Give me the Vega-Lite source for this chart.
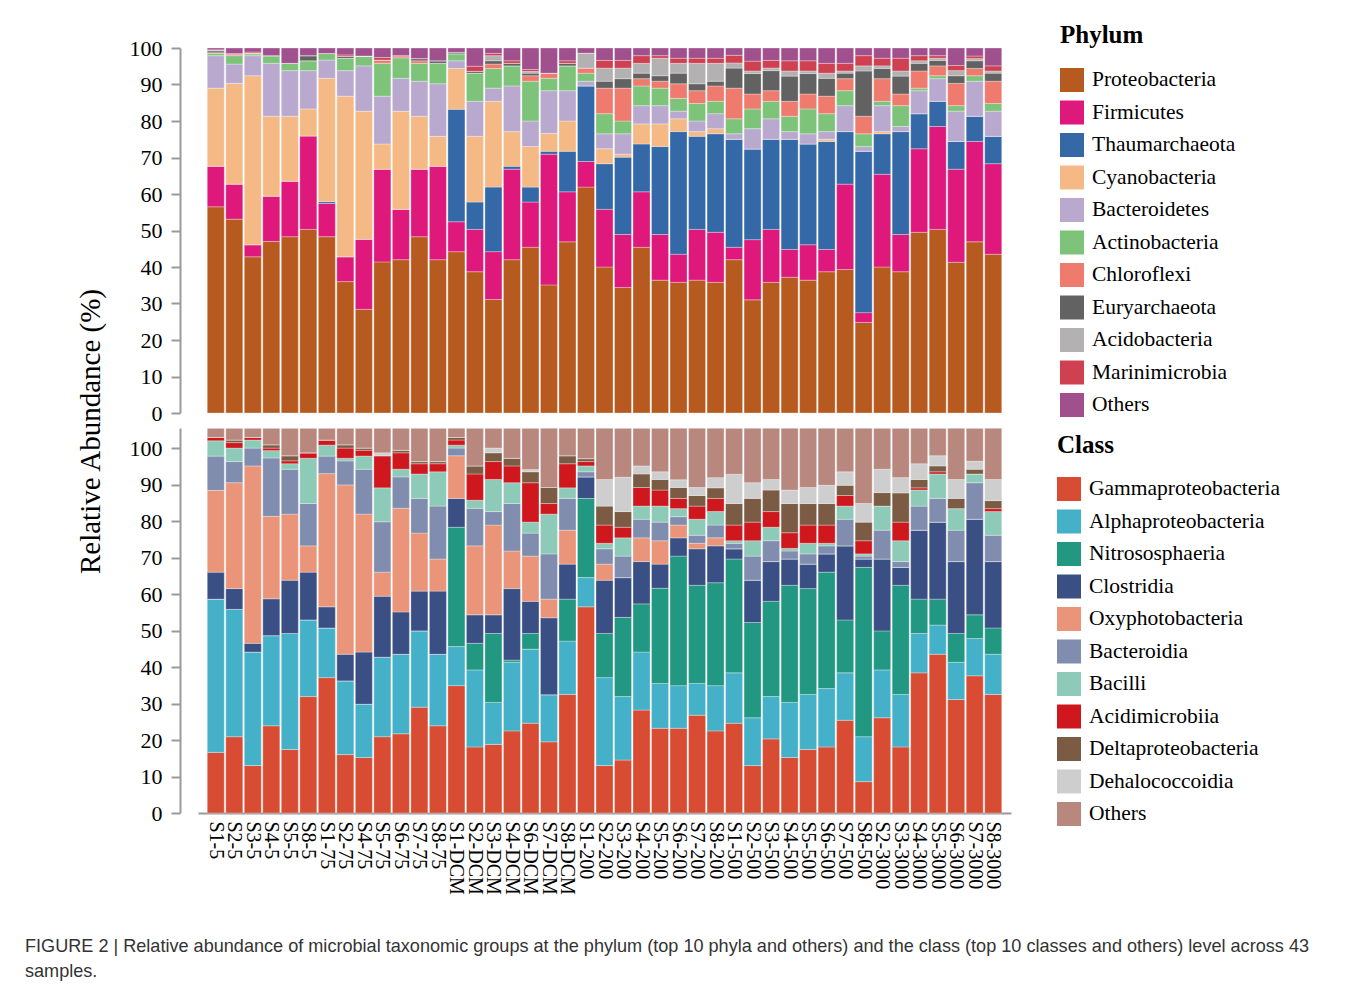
{
  "$schema": "https://vega.github.io/schema/vega-lite/v6.json",
  "background": "white",
  "padding": {"left": 25, "top": 23, "right": 10, "bottom": 10},
  "datasets": {
    "phylumRank": [
      {"taxon":"Proteobacteria","rank":1},{"taxon":"Firmicutes","rank":2},{"taxon":"Thaumarchaeota","rank":3},
      {"taxon":"Cyanobacteria","rank":4},{"taxon":"Bacteroidetes","rank":5},{"taxon":"Actinobacteria","rank":6},
      {"taxon":"Chloroflexi","rank":7},{"taxon":"Euryarchaeota","rank":8},{"taxon":"Acidobacteria","rank":9},
      {"taxon":"Marinimicrobia","rank":10},{"taxon":"Others","rank":11}
    ],
    "classRank": [
      {"taxon":"Gammaproteobacteria","rank":1},{"taxon":"Alphaproteobacteria","rank":2},{"taxon":"Nitrososphaeria","rank":3},
      {"taxon":"Clostridia","rank":4},{"taxon":"Oxyphotobacteria","rank":5},{"taxon":"Bacteroidia","rank":6},
      {"taxon":"Bacilli","rank":7},{"taxon":"Acidimicrobiia","rank":8},{"taxon":"Deltaproteobacteria","rank":9},
      {"taxon":"Dehalococcoidia","rank":10},{"taxon":"Others","rank":11}
    ],
    "phylum": [
      {"sample":"S1-5","Proteobacteria":56.5,"Firmicutes":11.1,"Thaumarchaeota":0,"Cyanobacteria":21.4,"Bacteroidetes":8.9,"Actinobacteria":0.6,"Chloroflexi":0.2,"Euryarchaeota":0.5,"Acidobacteria":0.2,"Marinimicrobia":0.1,"Others":0.5},
      {"sample":"S2-5","Proteobacteria":53.1,"Firmicutes":9.6,"Thaumarchaeota":0,"Cyanobacteria":27.6,"Bacteroidetes":5.3,"Actinobacteria":2.3,"Chloroflexi":0.3,"Euryarchaeota":0,"Acidobacteria":0,"Marinimicrobia":0.3,"Others":1.5},
      {"sample":"S3-5","Proteobacteria":42.8,"Firmicutes":3.3,"Thaumarchaeota":0,"Cyanobacteria":46.3,"Bacteroidetes":5.5,"Actinobacteria":0.5,"Chloroflexi":0.2,"Euryarchaeota":0,"Acidobacteria":0,"Marinimicrobia":0.3,"Others":1.1},
      {"sample":"S4-5","Proteobacteria":47.0,"Firmicutes":12.4,"Thaumarchaeota":0,"Cyanobacteria":21.9,"Bacteroidetes":14.5,"Actinobacteria":2.1,"Chloroflexi":0,"Euryarchaeota":0,"Acidobacteria":0,"Marinimicrobia":0,"Others":2.1},
      {"sample":"S5-5","Proteobacteria":48.3,"Firmicutes":15.2,"Thaumarchaeota":0,"Cyanobacteria":17.8,"Bacteroidetes":12.5,"Actinobacteria":2.0,"Chloroflexi":0,"Euryarchaeota":0,"Acidobacteria":0,"Marinimicrobia":0,"Others":4.2},
      {"sample":"S8-5","Proteobacteria":50.3,"Firmicutes":25.6,"Thaumarchaeota":0,"Cyanobacteria":7.4,"Bacteroidetes":10.5,"Actinobacteria":2.7,"Chloroflexi":0,"Euryarchaeota":1.4,"Acidobacteria":0,"Marinimicrobia":0,"Others":2.1},
      {"sample":"S1-75","Proteobacteria":48.3,"Firmicutes":9.1,"Thaumarchaeota":0.5,"Cyanobacteria":33.8,"Bacteroidetes":5.0,"Actinobacteria":1.8,"Chloroflexi":0,"Euryarchaeota":0,"Acidobacteria":0,"Marinimicrobia":0,"Others":1.5},
      {"sample":"S2-75","Proteobacteria":36.0,"Firmicutes":6.8,"Thaumarchaeota":0,"Cyanobacteria":44.0,"Bacteroidetes":7.0,"Actinobacteria":3.4,"Chloroflexi":0,"Euryarchaeota":0.5,"Acidobacteria":0,"Marinimicrobia":0.4,"Others":1.9},
      {"sample":"S4-75","Proteobacteria":28.4,"Firmicutes":19.2,"Thaumarchaeota":0,"Cyanobacteria":35.1,"Bacteroidetes":12.4,"Actinobacteria":2.7,"Chloroflexi":0,"Euryarchaeota":0,"Acidobacteria":0,"Marinimicrobia":0,"Others":2.2},
      {"sample":"S5-75","Proteobacteria":41.4,"Firmicutes":25.4,"Thaumarchaeota":0,"Cyanobacteria":6.9,"Bacteroidetes":13.1,"Actinobacteria":9.0,"Chloroflexi":0.9,"Euryarchaeota":0,"Acidobacteria":0,"Marinimicrobia":0.7,"Others":2.6},
      {"sample":"S6-75","Proteobacteria":42.0,"Firmicutes":13.8,"Thaumarchaeota":0,"Cyanobacteria":26.9,"Bacteroidetes":9.0,"Actinobacteria":5.6,"Chloroflexi":0.6,"Euryarchaeota":0,"Acidobacteria":0,"Marinimicrobia":0,"Others":2.1},
      {"sample":"S7-75","Proteobacteria":48.3,"Firmicutes":18.5,"Thaumarchaeota":0,"Cyanobacteria":14.5,"Bacteroidetes":9.6,"Actinobacteria":4.9,"Chloroflexi":0.7,"Euryarchaeota":0.6,"Acidobacteria":0,"Marinimicrobia":0,"Others":2.9},
      {"sample":"S8-75","Proteobacteria":42.0,"Firmicutes":25.6,"Thaumarchaeota":0,"Cyanobacteria":8.2,"Bacteroidetes":14.4,"Actinobacteria":5.6,"Chloroflexi":0,"Euryarchaeota":0.7,"Acidobacteria":0,"Marinimicrobia":0,"Others":3.5},
      {"sample":"S1-DCM","Proteobacteria":44.2,"Firmicutes":8.2,"Thaumarchaeota":30.8,"Cyanobacteria":11.2,"Bacteroidetes":2.1,"Actinobacteria":1.9,"Chloroflexi":0,"Euryarchaeota":0.4,"Acidobacteria":0,"Marinimicrobia":0,"Others":1.2},
      {"sample":"S2-DCM","Proteobacteria":38.7,"Firmicutes":11.6,"Thaumarchaeota":7.5,"Cyanobacteria":18.0,"Bacteroidetes":9.6,"Actinobacteria":7.7,"Chloroflexi":0,"Euryarchaeota":0.5,"Acidobacteria":0,"Marinimicrobia":1.4,"Others":5.0},
      {"sample":"S3-DCM","Proteobacteria":31.1,"Firmicutes":13.1,"Thaumarchaeota":17.7,"Cyanobacteria":23.5,"Bacteroidetes":3.6,"Actinobacteria":5.4,"Chloroflexi":1.2,"Euryarchaeota":0.9,"Acidobacteria":1.4,"Marinimicrobia":0.6,"Others":1.5},
      {"sample":"S4-DCM","Proteobacteria":42.0,"Firmicutes":24.8,"Thaumarchaeota":0.8,"Cyanobacteria":9.5,"Bacteroidetes":12.5,"Actinobacteria":5.5,"Chloroflexi":0,"Euryarchaeota":0.7,"Acidobacteria":0,"Marinimicrobia":0.7,"Others":3.5},
      {"sample":"S6-DCM","Proteobacteria":45.4,"Firmicutes":12.4,"Thaumarchaeota":4.1,"Cyanobacteria":11.1,"Bacteroidetes":7.0,"Actinobacteria":10.9,"Chloroflexi":1.5,"Euryarchaeota":0.7,"Acidobacteria":0.5,"Marinimicrobia":0.5,"Others":5.9},
      {"sample":"S7-DCM","Proteobacteria":35.1,"Firmicutes":35.8,"Thaumarchaeota":0.8,"Cyanobacteria":4.9,"Bacteroidetes":11.7,"Actinobacteria":3.4,"Chloroflexi":1.4,"Euryarchaeota":0,"Acidobacteria":0,"Marinimicrobia":0,"Others":6.9},
      {"sample":"S8-DCM","Proteobacteria":46.9,"Firmicutes":13.7,"Thaumarchaeota":11.1,"Cyanobacteria":8.3,"Bacteroidetes":8.3,"Actinobacteria":6.8,"Chloroflexi":0,"Euryarchaeota":0.7,"Acidobacteria":0,"Marinimicrobia":0.7,"Others":3.5},
      {"sample":"S1-200","Proteobacteria":61.9,"Firmicutes":7.0,"Thaumarchaeota":20.7,"Cyanobacteria":0,"Bacteroidetes":1.3,"Actinobacteria":2.2,"Chloroflexi":1.4,"Euryarchaeota":0,"Acidobacteria":4.1,"Marinimicrobia":0,"Others":1.4},
      {"sample":"S2-200","Proteobacteria":40.0,"Firmicutes":15.8,"Thaumarchaeota":12.5,"Cyanobacteria":4.1,"Bacteroidetes":4.1,"Actinobacteria":5.5,"Chloroflexi":7.0,"Euryarchaeota":1.9,"Acidobacteria":3.6,"Marinimicrobia":2.1,"Others":3.4},
      {"sample":"S3-200","Proteobacteria":34.4,"Firmicutes":14.5,"Thaumarchaeota":21.2,"Cyanobacteria":0.8,"Bacteroidetes":5.6,"Actinobacteria":3.5,"Chloroflexi":9.0,"Euryarchaeota":2.6,"Acidobacteria":2.9,"Marinimicrobia":2.1,"Others":3.4},
      {"sample":"S4-200","Proteobacteria":45.4,"Firmicutes":15.2,"Thaumarchaeota":13.1,"Cyanobacteria":5.5,"Bacteroidetes":5.0,"Actinobacteria":5.4,"Chloroflexi":2.0,"Euryarchaeota":1.5,"Acidobacteria":2.7,"Marinimicrobia":2.1,"Others":2.1},
      {"sample":"S5-200","Proteobacteria":36.4,"Firmicutes":12.5,"Thaumarchaeota":24.1,"Cyanobacteria":6.2,"Bacteroidetes":5.0,"Actinobacteria":4.8,"Chloroflexi":1.9,"Euryarchaeota":1.5,"Acidobacteria":4.8,"Marinimicrobia":0.7,"Others":2.1},
      {"sample":"S6-200","Proteobacteria":35.8,"Firmicutes":7.7,"Thaumarchaeota":33.6,"Cyanobacteria":3.5,"Bacteroidetes":2.1,"Actinobacteria":3.5,"Chloroflexi":4.0,"Euryarchaeota":2.9,"Acidobacteria":2.7,"Marinimicrobia":1.4,"Others":2.8},
      {"sample":"S7-200","Proteobacteria":36.4,"Firmicutes":13.9,"Thaumarchaeota":25.5,"Cyanobacteria":1.3,"Bacteroidetes":2.9,"Actinobacteria":4.8,"Chloroflexi":3.5,"Euryarchaeota":1.9,"Acidobacteria":5.6,"Marinimicrobia":1.4,"Others":2.8},
      {"sample":"S8-200","Proteobacteria":35.8,"Firmicutes":13.7,"Thaumarchaeota":27.0,"Cyanobacteria":1.4,"Bacteroidetes":4.1,"Actinobacteria":3.4,"Chloroflexi":4.2,"Euryarchaeota":1.3,"Acidobacteria":4.9,"Marinimicrobia":1.4,"Others":2.8},
      {"sample":"S1-500","Proteobacteria":42.0,"Firmicutes":3.4,"Thaumarchaeota":29.6,"Cyanobacteria":0,"Bacteroidetes":1.5,"Actinobacteria":4.1,"Chloroflexi":8.4,"Euryarchaeota":5.5,"Acidobacteria":1.4,"Marinimicrobia":2.1,"Others":2.0},
      {"sample":"S2-500","Proteobacteria":31.0,"Firmicutes":16.5,"Thaumarchaeota":24.8,"Cyanobacteria":0,"Bacteroidetes":5.6,"Actinobacteria":5.4,"Chloroflexi":4.1,"Euryarchaeota":5.6,"Acidobacteria":0.7,"Marinimicrobia":2.7,"Others":3.6},
      {"sample":"S3-500","Proteobacteria":35.8,"Firmicutes":14.5,"Thaumarchaeota":24.7,"Cyanobacteria":0,"Bacteroidetes":5.6,"Actinobacteria":4.8,"Chloroflexi":2.9,"Euryarchaeota":5.5,"Acidobacteria":0.7,"Marinimicrobia":2.1,"Others":3.4},
      {"sample":"S4-500","Proteobacteria":37.2,"Firmicutes":7.6,"Thaumarchaeota":30.2,"Cyanobacteria":0,"Bacteroidetes":2.1,"Actinobacteria":4.2,"Chloroflexi":4.1,"Euryarchaeota":6.9,"Acidobacteria":1.4,"Marinimicrobia":2.8,"Others":3.5},
      {"sample":"S5-500","Proteobacteria":36.4,"Firmicutes":9.7,"Thaumarchaeota":27.6,"Cyanobacteria":0,"Bacteroidetes":2.8,"Actinobacteria":6.8,"Chloroflexi":4.1,"Euryarchaeota":5.6,"Acidobacteria":0.7,"Marinimicrobia":2.8,"Others":3.5},
      {"sample":"S6-500","Proteobacteria":38.7,"Firmicutes":6.1,"Thaumarchaeota":29.6,"Cyanobacteria":0.6,"Bacteroidetes":2.1,"Actinobacteria":4.9,"Chloroflexi":4.8,"Euryarchaeota":4.9,"Acidobacteria":1.4,"Marinimicrobia":2.7,"Others":4.2},
      {"sample":"S7-500","Proteobacteria":39.3,"Firmicutes":23.4,"Thaumarchaeota":14.4,"Cyanobacteria":0,"Bacteroidetes":7.1,"Actinobacteria":4.1,"Chloroflexi":3.3,"Euryarchaeota":1.5,"Acidobacteria":0.6,"Marinimicrobia":2.1,"Others":4.2},
      {"sample":"S8-500","Proteobacteria":24.8,"Firmicutes":2.7,"Thaumarchaeota":44.2,"Cyanobacteria":0,"Bacteroidetes":1.3,"Actinobacteria":3.5,"Chloroflexi":4.8,"Euryarchaeota":12.4,"Acidobacteria":1.4,"Marinimicrobia":2.8,"Others":2.1},
      {"sample":"S2-3000","Proteobacteria":40.0,"Firmicutes":25.4,"Thaumarchaeota":11.1,"Cyanobacteria":0.6,"Bacteroidetes":7.1,"Actinobacteria":1.2,"Chloroflexi":6.2,"Euryarchaeota":2.8,"Acidobacteria":0.7,"Marinimicrobia":2.1,"Others":2.8},
      {"sample":"S3-3000","Proteobacteria":38.7,"Firmicutes":10.2,"Thaumarchaeota":28.2,"Cyanobacteria":0,"Bacteroidetes":1.4,"Actinobacteria":5.7,"Chloroflexi":3.2,"Euryarchaeota":4.9,"Acidobacteria":1.4,"Marinimicrobia":3.5,"Others":2.8},
      {"sample":"S4-3000","Proteobacteria":49.5,"Firmicutes":22.9,"Thaumarchaeota":9.6,"Cyanobacteria":0,"Bacteroidetes":6.3,"Actinobacteria":0.7,"Chloroflexi":4.7,"Euryarchaeota":2.1,"Acidobacteria":0.7,"Marinimicrobia":1.4,"Others":2.1},
      {"sample":"S5-3000","Proteobacteria":50.3,"Firmicutes":28.2,"Thaumarchaeota":6.9,"Cyanobacteria":0,"Bacteroidetes":6.2,"Actinobacteria":0.8,"Chloroflexi":2.7,"Euryarchaeota":1.5,"Acidobacteria":0.6,"Marinimicrobia":0.7,"Others":2.1},
      {"sample":"S6-3000","Proteobacteria":41.3,"Firmicutes":25.5,"Thaumarchaeota":7.6,"Cyanobacteria":0,"Bacteroidetes":8.3,"Actinobacteria":1.5,"Chloroflexi":6.1,"Euryarchaeota":2.1,"Acidobacteria":1.4,"Marinimicrobia":1.4,"Others":4.8},
      {"sample":"S7-3000","Proteobacteria":46.9,"Firmicutes":27.5,"Thaumarchaeota":6.9,"Cyanobacteria":0,"Bacteroidetes":9.6,"Actinobacteria":1.5,"Chloroflexi":2.0,"Euryarchaeota":2.1,"Acidobacteria":0.6,"Marinimicrobia":0.7,"Others":2.2},
      {"sample":"S8-3000","Proteobacteria":43.5,"Firmicutes":24.8,"Thaumarchaeota":7.5,"Cyanobacteria":0,"Bacteroidetes":6.9,"Actinobacteria":2.1,"Chloroflexi":6.1,"Euryarchaeota":2.2,"Acidobacteria":0.6,"Marinimicrobia":1.4,"Others":4.9}
    ],
    "class": [
      {"sample":"S1-5","Gammaproteobacteria":16.6,"Alphaproteobacteria":42.0,"Nitrososphaeria":0,"Clostridia":7.4,"Oxyphotobacteria":22.4,"Bacteroidia":9.4,"Bacilli":4.2,"Acidimicrobiia":0.9,"Deltaproteobacteria":0,"Dehalococcoidia":0,"Others":2.5},
      {"sample":"S2-5","Gammaproteobacteria":20.9,"Alphaproteobacteria":34.9,"Nitrososphaeria":0,"Clostridia":5.7,"Oxyphotobacteria":29.0,"Bacteroidia":5.8,"Bacilli":3.7,"Acidimicrobiia":1.5,"Deltaproteobacteria":0.7,"Dehalococcoidia":0,"Others":3.2},
      {"sample":"S3-5","Gammaproteobacteria":13.0,"Alphaproteobacteria":31.1,"Nitrososphaeria":0,"Clostridia":2.4,"Oxyphotobacteria":48.6,"Bacteroidia":4.9,"Bacilli":2.2,"Acidimicrobiia":0.7,"Deltaproteobacteria":0,"Dehalococcoidia":0,"Others":2.5},
      {"sample":"S4-5","Gammaproteobacteria":23.9,"Alphaproteobacteria":24.7,"Nitrososphaeria":0,"Clostridia":10.1,"Oxyphotobacteria":22.6,"Bacteroidia":16.0,"Bacilli":2.0,"Acidimicrobiia":0.7,"Deltaproteobacteria":0.9,"Dehalococcoidia":0,"Others":4.5},
      {"sample":"S5-5","Gammaproteobacteria":17.4,"Alphaproteobacteria":31.8,"Nitrososphaeria":0,"Clostridia":14.6,"Oxyphotobacteria":18.1,"Bacteroidia":12.3,"Bacilli":1.5,"Acidimicrobiia":0.8,"Deltaproteobacteria":1.4,"Dehalococcoidia":0,"Others":7.5},
      {"sample":"S8-5","Gammaproteobacteria":31.9,"Alphaproteobacteria":21.0,"Nitrososphaeria":0,"Clostridia":13.1,"Oxyphotobacteria":7.2,"Bacteroidia":11.6,"Bacilli":12.4,"Acidimicrobiia":1.5,"Deltaproteobacteria":0,"Dehalococcoidia":0,"Others":6.7},
      {"sample":"S1-75","Gammaproteobacteria":37.1,"Alphaproteobacteria":13.6,"Nitrososphaeria":0,"Clostridia":5.8,"Oxyphotobacteria":36.5,"Bacteroidia":4.8,"Bacilli":3.0,"Acidimicrobiia":1.4,"Deltaproteobacteria":0,"Dehalococcoidia":0,"Others":3.2},
      {"sample":"S2-75","Gammaproteobacteria":16.0,"Alphaproteobacteria":20.2,"Nitrososphaeria":0,"Clostridia":7.3,"Oxyphotobacteria":46.4,"Bacteroidia":6.6,"Bacilli":0.7,"Acidimicrobiia":2.8,"Deltaproteobacteria":0.9,"Dehalococcoidia":0,"Others":4.5},
      {"sample":"S4-75","Gammaproteobacteria":15.2,"Alphaproteobacteria":14.6,"Nitrososphaeria":0,"Clostridia":14.3,"Oxyphotobacteria":37.8,"Bacteroidia":12.3,"Bacilli":3.6,"Acidimicrobiia":1.6,"Deltaproteobacteria":0.6,"Dehalococcoidia":0,"Others":5.4},
      {"sample":"S5-75","Gammaproteobacteria":20.9,"Alphaproteobacteria":21.8,"Nitrososphaeria":0,"Clostridia":16.7,"Oxyphotobacteria":6.6,"Bacteroidia":13.8,"Bacilli":9.3,"Acidimicrobiia":8.8,"Deltaproteobacteria":0,"Dehalococcoidia":0.8,"Others":6.7},
      {"sample":"S6-75","Gammaproteobacteria":21.7,"Alphaproteobacteria":21.8,"Nitrososphaeria":0,"Clostridia":11.6,"Oxyphotobacteria":28.4,"Bacteroidia":8.6,"Bacilli":2.1,"Acidimicrobiia":4.5,"Deltaproteobacteria":0.7,"Dehalococcoidia":0,"Others":6.0},
      {"sample":"S7-75","Gammaproteobacteria":29.0,"Alphaproteobacteria":20.9,"Nitrososphaeria":0,"Clostridia":10.9,"Oxyphotobacteria":15.9,"Bacteroidia":9.5,"Bacilli":6.7,"Acidimicrobiia":2.8,"Deltaproteobacteria":0.6,"Dehalococcoidia":0,"Others":9.1},
      {"sample":"S8-75","Gammaproteobacteria":23.9,"Alphaproteobacteria":19.6,"Nitrososphaeria":0,"Clostridia":17.3,"Oxyphotobacteria":8.8,"Bacteroidia":14.5,"Bacilli":9.4,"Acidimicrobiia":2.2,"Deltaproteobacteria":0.6,"Dehalococcoidia":0,"Others":9.1},
      {"sample":"S1-DCM","Gammaproteobacteria":34.9,"Alphaproteobacteria":10.7,"Nitrososphaeria":32.7,"Clostridia":7.9,"Oxyphotobacteria":11.7,"Bacteroidia":2.1,"Bacilli":0.8,"Acidimicrobiia":1.4,"Deltaproteobacteria":0.7,"Dehalococcoidia":0,"Others":2.5},
      {"sample":"S2-DCM","Gammaproteobacteria":18.1,"Alphaproteobacteria":21.1,"Nitrososphaeria":7.3,"Clostridia":7.8,"Oxyphotobacteria":18.9,"Bacteroidia":10.3,"Bacilli":2.2,"Acidimicrobiia":7.2,"Deltaproteobacteria":2.2,"Dehalococcoidia":0,"Others":10.3},
      {"sample":"S3-DCM","Gammaproteobacteria":18.8,"Alphaproteobacteria":11.5,"Nitrososphaeria":18.9,"Clostridia":5.1,"Oxyphotobacteria":24.6,"Bacteroidia":3.7,"Bacilli":8.8,"Acidimicrobiia":4.9,"Deltaproteobacteria":2.4,"Dehalococcoidia":1.3,"Others":5.4},
      {"sample":"S4-DCM","Gammaproteobacteria":22.5,"Alphaproteobacteria":18.8,"Nitrososphaeria":0.6,"Clostridia":19.6,"Oxyphotobacteria":10.3,"Bacteroidia":13.0,"Bacilli":5.7,"Acidimicrobiia":4.6,"Deltaproteobacteria":2.1,"Dehalococcoidia":0,"Others":8.2},
      {"sample":"S6-DCM","Gammaproteobacteria":24.6,"Alphaproteobacteria":20.3,"Nitrososphaeria":4.3,"Clostridia":8.8,"Oxyphotobacteria":12.4,"Bacteroidia":6.3,"Bacilli":3.0,"Acidimicrobiia":10.8,"Deltaproteobacteria":3.0,"Dehalococcoidia":0.6,"Others":11.3},
      {"sample":"S7-DCM","Gammaproteobacteria":19.5,"Alphaproteobacteria":12.9,"Nitrososphaeria":0,"Clostridia":21.1,"Oxyphotobacteria":5.1,"Bacteroidia":12.4,"Bacilli":10.9,"Acidimicrobiia":2.9,"Deltaproteobacteria":4.4,"Dehalococcoidia":0,"Others":16.2},
      {"sample":"S8-DCM","Gammaproteobacteria":32.5,"Alphaproteobacteria":14.6,"Nitrososphaeria":11.5,"Clostridia":9.6,"Oxyphotobacteria":9.3,"Bacteroidia":8.7,"Bacilli":2.9,"Acidimicrobiia":6.6,"Deltaproteobacteria":2.2,"Dehalococcoidia":0,"Others":7.5},
      {"sample":"S1-200","Gammaproteobacteria":56.5,"Alphaproteobacteria":8.0,"Nitrososphaeria":21.7,"Clostridia":5.9,"Oxyphotobacteria":0,"Bacteroidia":1.4,"Bacilli":1.6,"Acidimicrobiia":1.2,"Deltaproteobacteria":0.8,"Dehalococcoidia":0,"Others":8.3},
      {"sample":"S2-200","Gammaproteobacteria":13.0,"Alphaproteobacteria":24.1,"Nitrososphaeria":12.1,"Clostridia":14.6,"Oxyphotobacteria":4.4,"Bacteroidia":4.2,"Bacilli":1.5,"Acidimicrobiia":5.0,"Deltaproteobacteria":5.2,"Dehalococcoidia":7.3,"Others":14.0},
      {"sample":"S3-200","Gammaproteobacteria":14.5,"Alphaproteobacteria":17.4,"Nitrososphaeria":21.7,"Clostridia":10.9,"Oxyphotobacteria":0,"Bacteroidia":5.9,"Bacilli":5.0,"Acidimicrobiia":2.9,"Deltaproteobacteria":4.3,"Dehalococcoidia":9.4,"Others":13.4},
      {"sample":"S4-200","Gammaproteobacteria":28.2,"Alphaproteobacteria":15.9,"Nitrososphaeria":13.2,"Clostridia":11.6,"Oxyphotobacteria":6.5,"Bacteroidia":5.1,"Bacilli":3.6,"Acidimicrobiia":5.1,"Deltaproteobacteria":3.7,"Dehalococcoidia":2.2,"Others":10.3},
      {"sample":"S5-200","Gammaproteobacteria":23.2,"Alphaproteobacteria":12.3,"Nitrososphaeria":26.1,"Clostridia":6.6,"Oxyphotobacteria":6.4,"Bacteroidia":5.1,"Bacilli":4.4,"Acidimicrobiia":4.4,"Deltaproteobacteria":2.9,"Dehalococcoidia":2.1,"Others":11.9},
      {"sample":"S6-200","Gammaproteobacteria":23.2,"Alphaproteobacteria":11.7,"Nitrososphaeria":35.5,"Clostridia":5.0,"Oxyphotobacteria":3.5,"Bacteroidia":2.3,"Bacilli":2.2,"Acidimicrobiia":2.8,"Deltaproteobacteria":3.0,"Dehalococcoidia":2.1,"Others":14.1},
      {"sample":"S7-200","Gammaproteobacteria":26.8,"Alphaproteobacteria":8.7,"Nitrososphaeria":26.9,"Clostridia":10.0,"Oxyphotobacteria":1.5,"Bacteroidia":2.2,"Bacilli":4.4,"Acidimicrobiia":3.6,"Deltaproteobacteria":2.9,"Dehalococcoidia":2.2,"Others":16.2},
      {"sample":"S8-200","Gammaproteobacteria":22.5,"Alphaproteobacteria":12.4,"Nitrososphaeria":28.2,"Clostridia":10.1,"Oxyphotobacteria":2.2,"Bacteroidia":3.5,"Bacilli":3.7,"Acidimicrobiia":3.6,"Deltaproteobacteria":2.9,"Dehalococcoidia":2.8,"Others":13.5},
      {"sample":"S1-500","Gammaproteobacteria":24.6,"Alphaproteobacteria":13.8,"Nitrososphaeria":31.2,"Clostridia":2.8,"Oxyphotobacteria":0,"Bacteroidia":1.5,"Bacilli":0.7,"Acidimicrobiia":4.3,"Deltaproteobacteria":5.9,"Dehalococcoidia":8.0,"Others":12.6},
      {"sample":"S2-500","Gammaproteobacteria":13.0,"Alphaproteobacteria":13.1,"Nitrososphaeria":26.1,"Clostridia":11.6,"Oxyphotobacteria":0,"Bacteroidia":6.6,"Bacilli":4.2,"Acidimicrobiia":5.1,"Deltaproteobacteria":6.5,"Dehalococcoidia":4.3,"Others":14.9},
      {"sample":"S3-500","Gammaproteobacteria":20.3,"Alphaproteobacteria":11.6,"Nitrososphaeria":26.1,"Clostridia":10.9,"Oxyphotobacteria":0,"Bacteroidia":5.7,"Bacilli":3.7,"Acidimicrobiia":4.3,"Deltaproteobacteria":5.9,"Dehalococcoidia":2.9,"Others":14.0},
      {"sample":"S4-500","Gammaproteobacteria":15.2,"Alphaproteobacteria":15.1,"Nitrososphaeria":32.1,"Clostridia":7.2,"Oxyphotobacteria":0,"Bacteroidia":2.2,"Bacilli":0.7,"Acidimicrobiia":4.3,"Deltaproteobacteria":8.0,"Dehalococcoidia":3.7,"Others":16.9},
      {"sample":"S5-500","Gammaproteobacteria":17.4,"Alphaproteobacteria":15.1,"Nitrososphaeria":29.0,"Clostridia":6.7,"Oxyphotobacteria":0,"Bacteroidia":2.8,"Bacilli":2.9,"Acidimicrobiia":5.0,"Deltaproteobacteria":5.9,"Dehalococcoidia":4.4,"Others":16.2},
      {"sample":"S6-500","Gammaproteobacteria":18.1,"Alphaproteobacteria":16.0,"Nitrososphaeria":31.9,"Clostridia":5.0,"Oxyphotobacteria":0,"Bacteroidia":2.2,"Bacilli":0.7,"Acidimicrobiia":5.0,"Deltaproteobacteria":5.9,"Dehalococcoidia":5.0,"Others":15.6},
      {"sample":"S7-500","Gammaproteobacteria":25.4,"Alphaproteobacteria":13.0,"Nitrososphaeria":14.5,"Clostridia":20.3,"Oxyphotobacteria":0,"Bacteroidia":7.3,"Bacilli":3.6,"Acidimicrobiia":2.9,"Deltaproteobacteria":2.8,"Dehalococcoidia":3.7,"Others":11.9},
      {"sample":"S8-500","Gammaproteobacteria":8.6,"Alphaproteobacteria":12.3,"Nitrososphaeria":46.4,"Clostridia":2.3,"Oxyphotobacteria":0,"Bacteroidia":0.8,"Bacilli":0.6,"Acidimicrobiia":3.6,"Deltaproteobacteria":5.1,"Dehalococcoidia":5.1,"Others":20.6},
      {"sample":"S2-3000","Gammaproteobacteria":26.1,"Alphaproteobacteria":13.1,"Nitrososphaeria":10.7,"Clostridia":19.7,"Oxyphotobacteria":0,"Bacteroidia":7.9,"Bacilli":6.6,"Acidimicrobiia":0,"Deltaproteobacteria":3.7,"Dehalococcoidia":6.4,"Others":11.2},
      {"sample":"S3-3000","Gammaproteobacteria":18.1,"Alphaproteobacteria":14.4,"Nitrososphaeria":29.9,"Clostridia":4.9,"Oxyphotobacteria":0,"Bacteroidia":1.6,"Bacilli":5.7,"Acidimicrobiia":5.1,"Deltaproteobacteria":8.0,"Dehalococcoidia":4.2,"Others":13.5},
      {"sample":"S4-3000","Gammaproteobacteria":38.4,"Alphaproteobacteria":10.8,"Nitrososphaeria":9.4,"Clostridia":18.9,"Oxyphotobacteria":0,"Bacteroidia":6.6,"Bacilli":4.4,"Acidimicrobiia":0.6,"Deltaproteobacteria":2.3,"Dehalococcoidia":4.3,"Others":9.7},
      {"sample":"S5-3000","Gammaproteobacteria":43.5,"Alphaproteobacteria":8.0,"Nitrososphaeria":7.1,"Clostridia":21.1,"Oxyphotobacteria":0,"Bacteroidia":6.5,"Bacilli":6.7,"Acidimicrobiia":0.6,"Deltaproteobacteria":1.6,"Dehalococcoidia":2.8,"Others":7.5},
      {"sample":"S6-3000","Gammaproteobacteria":31.1,"Alphaproteobacteria":10.2,"Nitrososphaeria":7.9,"Clostridia":19.7,"Oxyphotobacteria":0,"Bacteroidia":8.6,"Bacilli":5.9,"Acidimicrobiia":0,"Deltaproteobacteria":2.8,"Dehalococcoidia":5.2,"Others":14.0},
      {"sample":"S7-3000","Gammaproteobacteria":37.6,"Alphaproteobacteria":10.2,"Nitrososphaeria":6.5,"Clostridia":26.2,"Oxyphotobacteria":0,"Bacteroidia":10.0,"Bacilli":2.4,"Acidimicrobiia":0,"Deltaproteobacteria":1.3,"Dehalococcoidia":2.2,"Others":9.0},
      {"sample":"S8-3000","Gammaproteobacteria":32.5,"Alphaproteobacteria":11.0,"Nitrososphaeria":7.2,"Clostridia":18.2,"Oxyphotobacteria":0,"Bacteroidia":7.2,"Bacilli":6.5,"Acidimicrobiia":0.8,"Deltaproteobacteria":2.2,"Dehalococcoidia":5.8,"Others":14.0}
    ]
  },
  "title": {
    "text": ["FIGURE 2 | Relative abundance of microbial taxonomic groups at the phylum (top 10 phyla and others) and the class (top 10 classes and others) level across 43", "samples."],
    "orient": "bottom",
    "anchor": "start",
    "frame": "group",
    "dx": -173,
    "offset": 44,
    "font": "Liberation Sans",
    "fontSize": 18.1,
    "fontWeight": "normal",
    "color": "#333333",
    "lineHeight": 25,
    "baseline": "top"
  },
  "bounds": "flush",
  "spacing": 15,
  "resolve": {
    "scale": {"color": "independent", "x": "independent", "y": "independent"},
    "legend": {"color": "independent"}
  },
  "vconcat": [
    {
      "width": 813,
      "height": 365,
      "data": {"name": "phylum"},
      "transform": [
        {"fold": ["Proteobacteria","Firmicutes","Thaumarchaeota","Cyanobacteria","Bacteroidetes","Actinobacteria","Chloroflexi","Euryarchaeota","Acidobacteria","Marinimicrobia","Others"], "as": ["taxon", "pct"]},
        {"lookup": "taxon", "from": {"data": {"name": "phylumRank"}, "key": "taxon", "fields": ["rank"]}}
      ],
      "mark": {"type": "bar", "stroke": "white", "strokeWidth": 0.6, "strokeOpacity": 0.5},
      "encoding": {
        "x": {"field": "sample", "type": "nominal", "sort": null, "axis": null,
              "scale": {"paddingInner": 0.08, "paddingOuter": 0.5}},
        "y": {"field": "pct", "type": "quantitative", "stack": "zero",
              "scale": {"domain": [0, 100], "nice": false},
              "axis": {"title": "Relative Abundance (%)", "values": [0,10,20,30,40,50,60,70,80,90,100],
                       "offset": 18, "tickSize": 9, "labelPadding": 9, "labelFontSize": 22,
                       "titleFont": "Liberation Serif", "titleFontSize": 29, "titleFontWeight": "normal", "titleColor": "#000000",
                       "titleX": -90, "titleY": 383, "titleAngle": -90, "titleBaseline": "middle", "titleAlign": "center"}},
        "order": {"field": "rank", "type": "quantitative", "sort": "ascending"},
        "color": {"field": "taxon", "type": "nominal",
                  "scale": {"domain": ["Proteobacteria","Firmicutes","Thaumarchaeota","Cyanobacteria","Bacteroidetes","Actinobacteria","Chloroflexi","Euryarchaeota","Acidobacteria","Marinimicrobia","Others"],
                            "range": ["#B75A1F","#DE197B","#3568A6","#F5B985","#BAA9CF","#7DC47A","#EF7A6E","#626262","#B3B1B1","#CF4151","#A0508D"]},
                  "legend": {"title": "Phylum", "orient": "none", "legendX": 862, "legendY": -25, "titlePadding": 20}}
      }
    },
    {
      "width": 813,
      "height": 385,
      "data": {"name": "class"},
      "transform": [
        {"fold": ["Gammaproteobacteria","Alphaproteobacteria","Nitrososphaeria","Clostridia","Oxyphotobacteria","Bacteroidia","Bacilli","Acidimicrobiia","Deltaproteobacteria","Dehalococcoidia","Others"], "as": ["taxon", "pct"]},
        {"lookup": "taxon", "from": {"data": {"name": "classRank"}, "key": "taxon", "fields": ["rank"]}}
      ],
      "mark": {"type": "bar", "stroke": "white", "strokeWidth": 0.6, "strokeOpacity": 0.5},
      "encoding": {
        "x": {"field": "sample", "type": "nominal", "sort": null,
              "scale": {"paddingInner": 0.08, "paddingOuter": 0.5},
              "axis": {"title": null, "labelAngle": 90, "labelFontSize": 20, "labelPadding": 8, "ticks": false}},
        "y": {"field": "pct", "type": "quantitative", "stack": "zero",
              "scale": {"domain": [0, 105.5], "nice": false},
              "axis": {"title": null, "values": [0,10,20,30,40,50,60,70,80,90,100],
                       "offset": 18, "tickSize": 9, "labelPadding": 9, "labelFontSize": 22}},
        "order": {"field": "rank", "type": "quantitative", "sort": "ascending"},
        "color": {"field": "taxon", "type": "nominal",
                  "scale": {"domain": ["Gammaproteobacteria","Alphaproteobacteria","Nitrososphaeria","Clostridia","Oxyphotobacteria","Bacteroidia","Bacilli","Acidimicrobiia","Deltaproteobacteria","Dehalococcoidia","Others"],
                            "range": ["#D84C33","#45B1C9","#229782","#3A5085","#EA9479","#818DAE","#8DCAB8","#CF181E","#7B5B43","#CECECE","#B8887E"]},
                  "legend": {"title": "Class", "orient": "none", "legendX": 859, "legendY": 5, "titlePadding": 19}}
      }
    }
  ],
  "config": {
    "view": {"stroke": null},
    "font": "Liberation Serif",
    "axis": {
      "domainColor": "#9a9a9a", "domainWidth": 2, "tickColor": "#9a9a9a", "tickWidth": 2,
      "labelColor": "#000000", "labelFont": "Liberation Serif", "grid": false
    },
    "legend": {
      "symbolType": "square", "symbolSize": 576, "symbolStrokeWidth": 0, "symbolOpacity": 1,
      "labelFont": "Liberation Serif", "labelFontSize": 21.5, "labelColor": "#000000", "labelLimit": 400, "labelOffset": 8,
      "titleFont": "Liberation Serif", "titleFontSize": 25, "titleFontWeight": "bold", "titleColor": "#000000",
      "rowPadding": 8.5, "padding": 0, "titleAnchor": "start"
    }
  }
}
